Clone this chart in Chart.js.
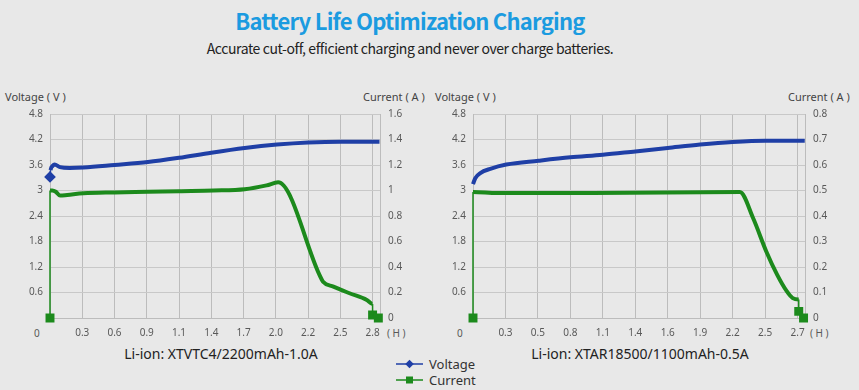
<!DOCTYPE html>
<html>
<head>
<meta charset="utf-8">
<script src="https://cdn.jsdelivr.net/npm/chart.js@4.4.0/dist/chart.umd.min.js"></script>
<style>
    html, body { margin: 0; padding: 0; background: #e8e8e8; }
    body { width: 859px; height: 390px; position: relative; overflow: hidden; font-family: "Noto Sans", sans-serif; }
    .txt { position: absolute; white-space: nowrap; }
    canvas { position: absolute; }
    #title { left: 0; width: 820px; top: 4px; text-align: center; font: bold 22px "Noto Sans CJK SC"; letter-spacing: -0.75px; color: #1b9be0; }
    #subtitle { left: 0; width: 820px; top: 38px; text-align: center; font: 14px "Noto Sans CJK SC"; letter-spacing: -0.4px; color: #222; }
    .axisTitle { top: 89px; font-size: 11px; color: #444; }
    .small { top: 326px; font-size: 10px; color: #595959; }
    .caption { top: 344px; font-size: 14px; color: #222; width: 300px; text-align: center; }
    .legend { left: 396px; font-size: 13px; color: #333; display: flex; align-items: center; }
    .legend svg { margin-right: 6px; }
</style>
</head>
<body>
<div id="title" class="txt">Battery Life Optimization Charging</div>
<div id="subtitle" class="txt">Accurate cut-off, efficient charging and never over charge batteries.</div>

<div class="txt axisTitle" style="left:5px">Voltage ( V )</div>
<div class="txt axisTitle" style="left:363px">Current ( A )</div>
<div class="txt axisTitle" style="left:435px">Voltage ( V )</div>
<div class="txt axisTitle" style="left:788px">Current ( A )</div>

<div class="txt small" style="left:34px">0</div>
<div class="txt small" style="left:387px">( H )</div>
<div class="txt small" style="left:457px">0</div>
<div class="txt small" style="left:810px">( H )</div>

<div class="txt caption" style="left:71px">Li-ion: XTVTC4/2200mAh-1.0A</div>
<div class="txt caption" style="left:490px">Li-ion: XTAR18500/1100mAh-0.5A</div>

<div class="txt legend" style="top:355px">
    <svg width="27" height="10"><line x1="0" y1="5" x2="27" y2="5" stroke="#1f3fa6" stroke-width="1.5"/><rect x="10.5" y="2" width="6" height="6" fill="#1f3fa6" transform="rotate(45 13.5 5)"/></svg>Voltage
</div>
<div class="txt legend" style="top:371px">
    <svg width="27" height="10"><line x1="0" y1="5" x2="27" y2="5" stroke="#1c8a1c" stroke-width="1.5"/><rect x="10" y="1.5" width="7" height="7" fill="#1c8a1c"/></svg>Current
</div>

<canvas id="chartLeft" width="430" height="255" style="left:0;top:90px"></canvas>
<canvas id="chartRight" width="429" height="255" style="left:430px;top:90px"></canvas>

<script>
// ---- left chart: XTVTC4 2200mAh @ 1.0A ----
const xLabelsL = ['', '0.3', '0.6', '0.9', '1.1', '1.4', '1.7', '2.0', '2.2', '2.5', '2.8'];
const voltLabels = ['', '0.6', '1.2', '1.8', '2.4', '3', '3.6', '4.2', '4.8'];
const currLabelsL = ['0', '0.2', '0.4', '0.6', '0.8', '1', '1.2', '1.4', '1.6'];

const voltTimeL = [0, 0.005, 0.023, 0.04, 0.087, 0.17, 0.29, 0.56, 0.85, 1.12, 1.40, 1.69, 1.97, 2.24, 2.52, 2.86];
const voltValL = [3.32, 3.48, 3.58, 3.61, 3.55, 3.53, 3.54, 3.60, 3.67, 3.77, 3.89, 4.00, 4.08, 4.13, 4.15, 4.15];

const currTimeL = [0, 0, 0.02, 0.05, 0.087, 0.15, 0.29, 0.56, 0.85, 1.12, 1.42, 1.69, 1.88, 1.98, 2.34, 2.37, 2.46, 2.60, 2.75, 2.80, 2.80, 2.85];
const currValL = [0, 1.0, 1.0, 0.99, 0.96, 0.965, 0.978, 0.985, 0.99, 0.995, 1.0, 1.01, 1.04, 1.064, 0.337, 0.285, 0.246, 0.194, 0.141, 0.11, 0.024, 0];

// ---- right chart: XTAR18500 1100mAh @ 0.5A ----
const xLabelsR = ['', '0.3', '0.5', '0.8', '1.1', '1.4', '1.6', '1.9', '2.2', '2.5', '2.7'];
const currLabelsR = ['0', '0.1', '0.2', '0.3', '0.4', '0.5', '0.6', '0.7', '0.8'];

const voltTimeR = [0, 0.019, 0.061, 0.144, 0.277, 0.545, 0.81, 1.08, 1.35, 1.62, 1.89, 2.16, 2.43, 2.76];
const voltValR = [3.15, 3.29, 3.41, 3.51, 3.61, 3.70, 3.78, 3.84, 3.92, 4.00, 4.08, 4.14, 4.17, 4.17];

const currTimeR = [0, 0, 0.2, 1.0, 2.22, 2.33, 2.44, 2.53, 2.61, 2.66, 2.71, 2.71, 2.75];
const currValR = [0, 0.494, 0.49, 0.49, 0.494, 0.392, 0.261, 0.17, 0.105, 0.078, 0.073, 0.026, 0];

const BLUE = '#1f3fa6';
const GREEN = '#1c8a1c';
const TICK_FONT = { family: 'Noto Sans', size: 10 };

const toPoints = (xs, ys) => xs.map((x, i) => ({ x: x, y: ys[i] }));

const makeChart = (id, cfg) => {
    const ele = document.getElementById(id);
    const step = cfg.step;

    return new Chart(ele, {
        type: 'line',
        data: {
            datasets: [{
                data: toPoints(cfg.voltTime, cfg.voltVal),
                yAxisID: 'y',
                borderColor: BLUE,
                backgroundColor: BLUE,
                borderWidth: 4,
                cubicInterpolationMode: 'monotone',
                pointStyle: 'rectRot',
                pointRadius: ctx => cfg.voltMarks.includes(ctx.dataIndex) ? 3 : 0,
                segment: {
                    borderWidth: ctx => cfg.voltThin.includes(ctx.p0DataIndex) ? 1.5 : 4
                },
                clip: false,
                order: 1
            }, {
                data: toPoints(cfg.currTime, cfg.currVal),
                yAxisID: 'y1',
                borderColor: GREEN,
                backgroundColor: GREEN,
                borderWidth: 4,
                cubicInterpolationMode: 'monotone',
                pointStyle: 'rect',
                pointRadius: ctx => cfg.currMarks.includes(ctx.dataIndex) ? 3.5 : 0,
                segment: {
                    borderWidth: ctx => cfg.currThin.includes(ctx.p0DataIndex) ? 1.5 : 4
                },
                clip: false,
                order: 2
            }]
        },
        options: {
            responsive: false,
            animation: false,
            layout: { padding: { top: 24, left: 0, right: 0, bottom: 0 } },
            plugins: {
                legend: { display: false },
                tooltip: { enabled: false }
            },
            scales: {
                x: {
                    type: 'linear',
                    min: 0,
                    max: step * 10.23,
                    afterBuildTicks: (scale) => {
                        scale.ticks = cfg.xLabels.map((l, i) => ({ value: i * step }));
                    },
                    afterFit: (scale) => { scale.height = 27; },
                    grid: { color: '#bcbcbc', drawTicks: false, lineWidth: 1 },
                    border: { display: true, color: '#bcbcbc' },
                    ticks: {
                        padding: 9,
                        color: '#595959',
                        font: TICK_FONT,
                        maxRotation: 0,
                        autoSkip: false,
                        callback: (v, i) => cfg.xLabels[i]
                    }
                },
                y: {
                    position: 'left',
                    min: 0,
                    max: 4.8,
                    afterBuildTicks: (scale) => {
                        scale.ticks = voltLabels.map((l, i) => ({ value: i * 0.6 }));
                    },
                    afterFit: (scale) => { scale.width = cfg.leftW; },
                    grid: { color: '#c8c8c8', drawTicks: false },
                    border: { display: true, color: '#bcbcbc' },
                    ticks: {
                        padding: 7,
                        color: '#595959',
                        font: TICK_FONT,
                        callback: (v, i) => voltLabels[i]
                    }
                },
                y1: {
                    position: 'right',
                    min: 0,
                    max: cfg.currMax,
                    afterBuildTicks: (scale) => {
                        scale.ticks = cfg.currLabels.map((l, i) => ({ value: i * cfg.currMax / 8 }));
                    },
                    afterFit: (scale) => { scale.width = cfg.rightW; },
                    grid: { drawOnChartArea: false, drawTicks: false },
                    border: { display: true, color: '#bcbcbc' },
                    ticks: {
                        padding: 8,
                        color: '#595959',
                        font: TICK_FONT,
                        callback: (v, i) => cfg.currLabels[i]
                    }
                }
            }
        }
    });
};

makeChart('chartLeft', {
    step: 0.28,
    xLabels: xLabelsL,
    voltTime: voltTimeL, voltVal: voltValL,
    currTime: currTimeL, currVal: currValL,
    currLabels: currLabelsL,
    currMax: 1.6,
    voltMarks: [0], voltThin: [0],
    currMarks: [0, 20, 21], currThin: [0, 19, 20],
    leftW: 50, rightW: 50
});

makeChart('chartRight', {
    step: 0.27,
    xLabels: xLabelsR,
    voltTime: voltTimeR, voltVal: voltValR,
    currTime: currTimeR, currVal: currValR,
    currLabels: currLabelsR,
    currMax: 0.8,
    voltMarks: [], voltThin: [],
    currMarks: [0, 11, 12], currThin: [0, 10, 11],
    leftW: 43, rightW: 54
});
</script>
</body>
</html>
